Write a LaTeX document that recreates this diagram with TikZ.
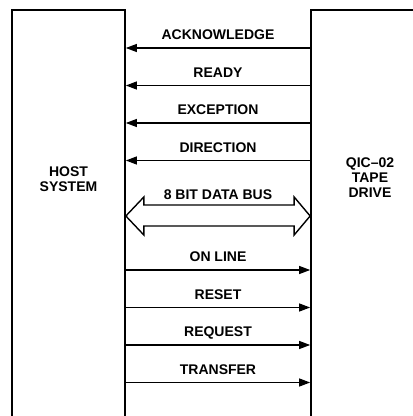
\documentclass[tikz,border=0pt]{standalone}
\usepackage{fontspec}
\setmainfont{Liberation Sans}
\usetikzlibrary{arrows.meta,calc}

\tikzset{
  unit/.style={draw, line width=1.7pt, rectangle, inner sep=0pt},
  sig/.style={line width=1.1pt, -{Triangle[length=11pt,width=8pt]}},
  sigtext/.style={font=\bfseries\fontsize{14}{15}\selectfont, anchor=base, inner sep=0pt},
  unittext/.style={font=\bfseries\fontsize{14}{15}\selectfont, align=center, inner sep=0pt},
  bus/.style={draw, line width=1.4pt, line join=miter, fill=white},
}

\begin{document}
\begin{tikzpicture}[x=1pt,y=1pt]
  \useasboundingbox (0,0) rectangle (413,416);
  \clip (0,0) rectangle (413,416);

  % the two units; their lower edges run off the sheet
  \node[unit, minimum width=113pt, minimum height=436pt] (host) at (68.5,188) {};
  \node[unit, minimum width=118pt, minimum height=436pt] (drive) at (370,188) {};

  \node[unittext] (hostlbl) at (68.5,236.5) {HOST\\SYSTEM};
  \node[unittext] (drivelbl) at (370,238.5) {QIC–02\\TAPE\\DRIVE};

  % drive -> host signals
  \foreach \y/\t [count=\i] in {368/ACKNOWLEDGE, 330.5/READY, 293/EXCEPTION, 255.5/DIRECTION}{
    \draw[sig] (drive.west |- 0,\y) -- (host.east |- 0,\y)
      node[sigtext, midway, yshift=8pt] (in\i) {\t};
  }

  % host -> drive signals
  \foreach \y/\t [count=\i] in {146/ON LINE, 108.5/RESET, 71/REQUEST, 33.5/TRANSFER}{
    \draw[sig] (host.east |- 0,\y) -- (drive.west |- 0,\y)
      node[sigtext, midway, yshift=8pt] (out\i) {\t};
  }

  % bidirectional data bus
  \coordinate (busL) at (host.east |- 0,200);
  \coordinate (busR) at (drive.west |- 0,200);
  \draw[bus] (busL) -- ++(18,19) -- ++(0,-8) -- ($(busR)+(-16,11)$) -- ++(0,8)
    -- (busR) -- ++(-16,-19) -- ++(0,9) -- ($(busL)+(18,-10)$) -- ++(0,-9) -- cycle;
  \node[sigtext] (buslbl) at ($(busL)!0.5!(busR)+(0,16)$) {8 BIT DATA BUS};
\end{tikzpicture}
\end{document}
